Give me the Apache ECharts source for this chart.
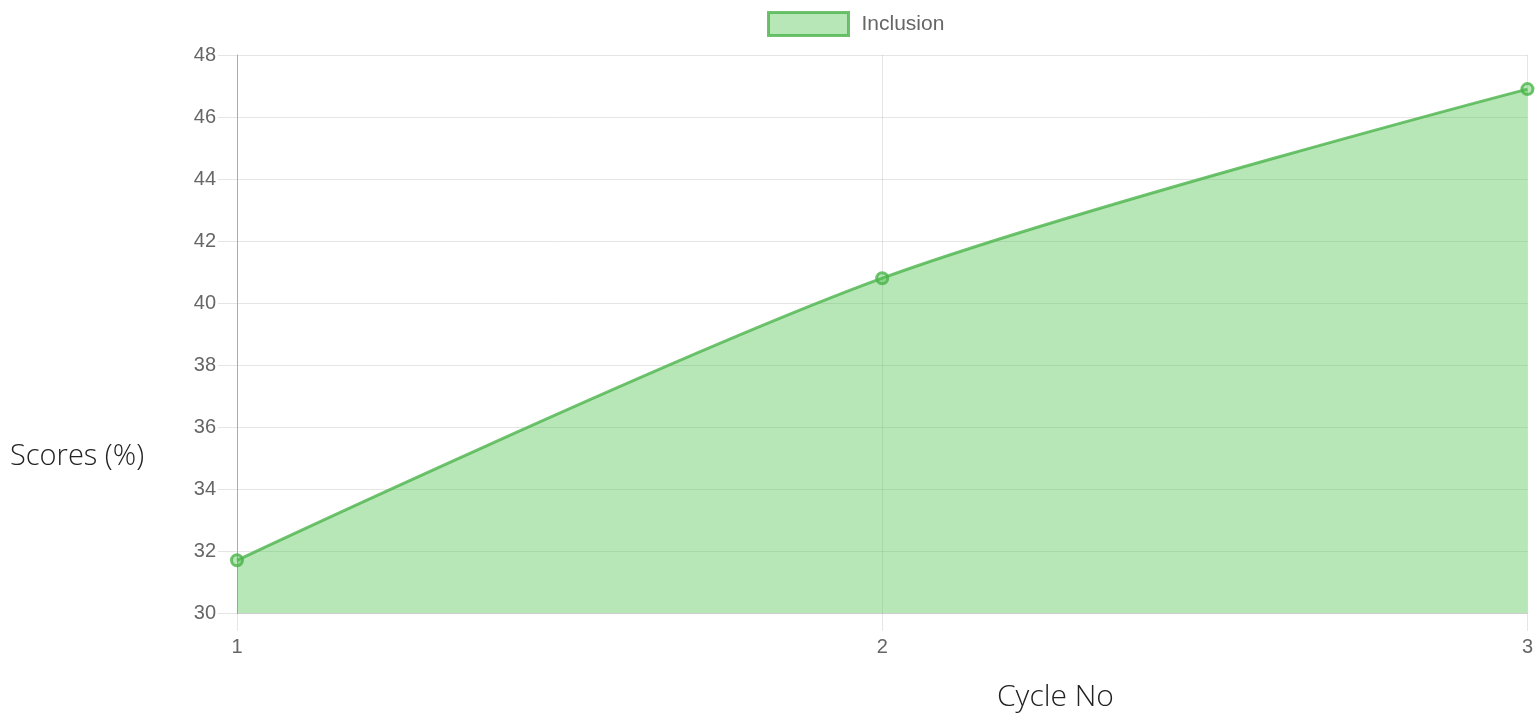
<!DOCTYPE html>
<html>
<head>
<meta charset="utf-8">
<script src="https://cdn.jsdelivr.net/npm/echarts@6/dist/echarts.min.js"></script>
<style>
  html, body { margin: 0; padding: 0; background: #fff; }
  #chart { width: 1536px; height: 719px; }
</style>
</head>
<body>
<div id="chart"></div>
<script>
// data
const cycles = ['1', '2', '3']
const inclusionScores = [31.7, 40.8, 46.9]
const seriesName = 'Inclusion'

const lineColor = 'rgba(75,180,75,0.8)'
const fillColor = 'rgba(75,192,75,0.4)'
const gridColor = 'rgba(0,0,0,0.1)'

const myChart = echarts.init(document.getElementById('chart'))
const option = {
  animation: false,
  grid: { left: 237, right: 6, top: 55, bottom: 106 },
  legend: {
    top: 6,
    left: 762,
    itemWidth: 80,
    itemHeight: 23,
    icon: 'rect',
    data: [{
      name: seriesName,
      itemStyle: { color: fillColor, borderColor: lineColor, borderWidth: 3 }
    }],
    textStyle: { fontFamily: 'Liberation Sans', fontSize: 21, color: '#666', padding: [0, 0, 0, 8] }
  },
  xAxis: {
    type: 'category',
    boundaryGap: false,
    data: cycles,
    axisLine: { show: true, lineStyle: { color: gridColor } },
    axisTick: { show: true, length: 18, lineStyle: { color: gridColor } },
    axisLabel: { margin: 24, fontFamily: 'Liberation Sans', fontSize: 20, color: '#666' },
    splitLine: { show: true, lineStyle: { color: gridColor } }
  },
  yAxis: {
    type: 'value',
    min: 30,
    max: 48,
    interval: 2,
    axisLine: { show: true, lineStyle: { color: '#aaa' } },
    axisTick: { show: true, length: 19, lineStyle: { color: gridColor } },
    axisLabel: { margin: 21, fontFamily: 'Liberation Sans', fontSize: 20, color: '#666' },
    splitLine: { show: true, lineStyle: { color: gridColor } }
  },
  graphic: [
    {
      type: 'text',
      x: 10,
      y: 457,
      style: { text: 'Scores (%)', font: '300 29px "Open Sans"', fill: '#222', verticalAlign: 'middle' }
    },
    {
      type: 'text',
      x: 997,
      y: 697,
      style: { text: 'Cycle No', font: '300 30px "Open Sans"', fill: '#222', verticalAlign: 'middle' }
    }
  ],
  series: [
    {
      name: seriesName,
      type: 'line',
      data: inclusionScores,
      smooth: 0.3,
      symbol: 'circle',
      symbolSize: 11,
      lineStyle: { color: lineColor, width: 3 },
      itemStyle: { color: fillColor, borderColor: lineColor, borderWidth: 3 },
      areaStyle: { color: fillColor, opacity: 1 }
    }
  ]
}
myChart.setOption(option)
</script>
</body>
</html>
